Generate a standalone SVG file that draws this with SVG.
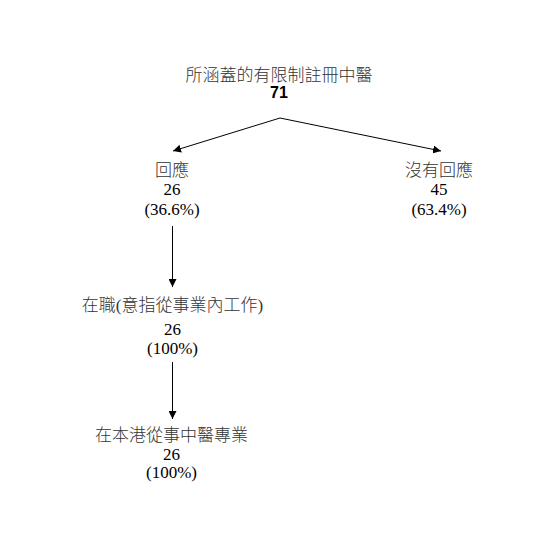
<svg xmlns="http://www.w3.org/2000/svg" width="558" height="553" viewBox="0 0 558 553">
<style>
.t{font-family:"Liberation Serif","Noto Sans CJK TC",serif;font-size:17px;fill:#000;text-anchor:middle}
.c{font-family:"Liberation Serif","Noto Sans CJK TC",serif;font-size:17px;font-weight:300;fill:#333;text-anchor:middle}
.b{font-family:"Liberation Sans",Arial,sans-serif;font-size:16px;font-weight:bold;fill:#000;text-anchor:middle}
.e{stroke:#000;stroke-width:1;fill:none}
</style>
<defs>
<marker id="ah" viewBox="0 0 10 10" refX="10" refY="5" markerWidth="8" markerHeight="8" markerUnits="userSpaceOnUse" orient="auto">
<path d="M0,0L10,5L0,10z" fill="#000"/>
</marker>
</defs>
<rect width="558" height="553" fill="#fff"/>
<g id="connectors">
<line class="e" x1="280" y1="118" x2="173" y2="151" marker-end="url(#ah)"/>
<line class="e" x1="280" y1="118" x2="441" y2="151" marker-end="url(#ah)"/>
<line class="e" x1="172.5" y1="226" x2="172.5" y2="287" marker-end="url(#ah)"/>
<line class="e" x1="172.5" y1="362" x2="172.5" y2="419" marker-end="url(#ah)"/>
</g>
<g id="root">
<text class="c" x="279" y="81">所涵蓋的有限制註冊中醫</text>
<text class="b" x="279" y="98">71</text>
</g>
<g id="responded">
<text class="c" x="172" y="176">回應</text>
<text class="t" x="172" y="195">26</text>
<text class="t" x="172" y="215">(36.6%)</text>
</g>
<g id="no-response">
<text class="c" x="439" y="176">沒有回應</text>
<text class="t" x="439" y="195">45</text>
<text class="t" x="439" y="215">(63.4%)</text>
</g>
<g id="employed">
<text class="c" x="172.5" y="311">在職(意指從事業內工作)</text>
<text class="t" x="172.5" y="335">26</text>
<text class="t" x="172.5" y="354">(100%)</text>
</g>
<g id="local-practice">
<text class="c" x="171.5" y="441">在本港從事中醫專業</text>
<text class="t" x="171.5" y="460">26</text>
<text class="t" x="171.5" y="478">(100%)</text>
</g>
</svg>
